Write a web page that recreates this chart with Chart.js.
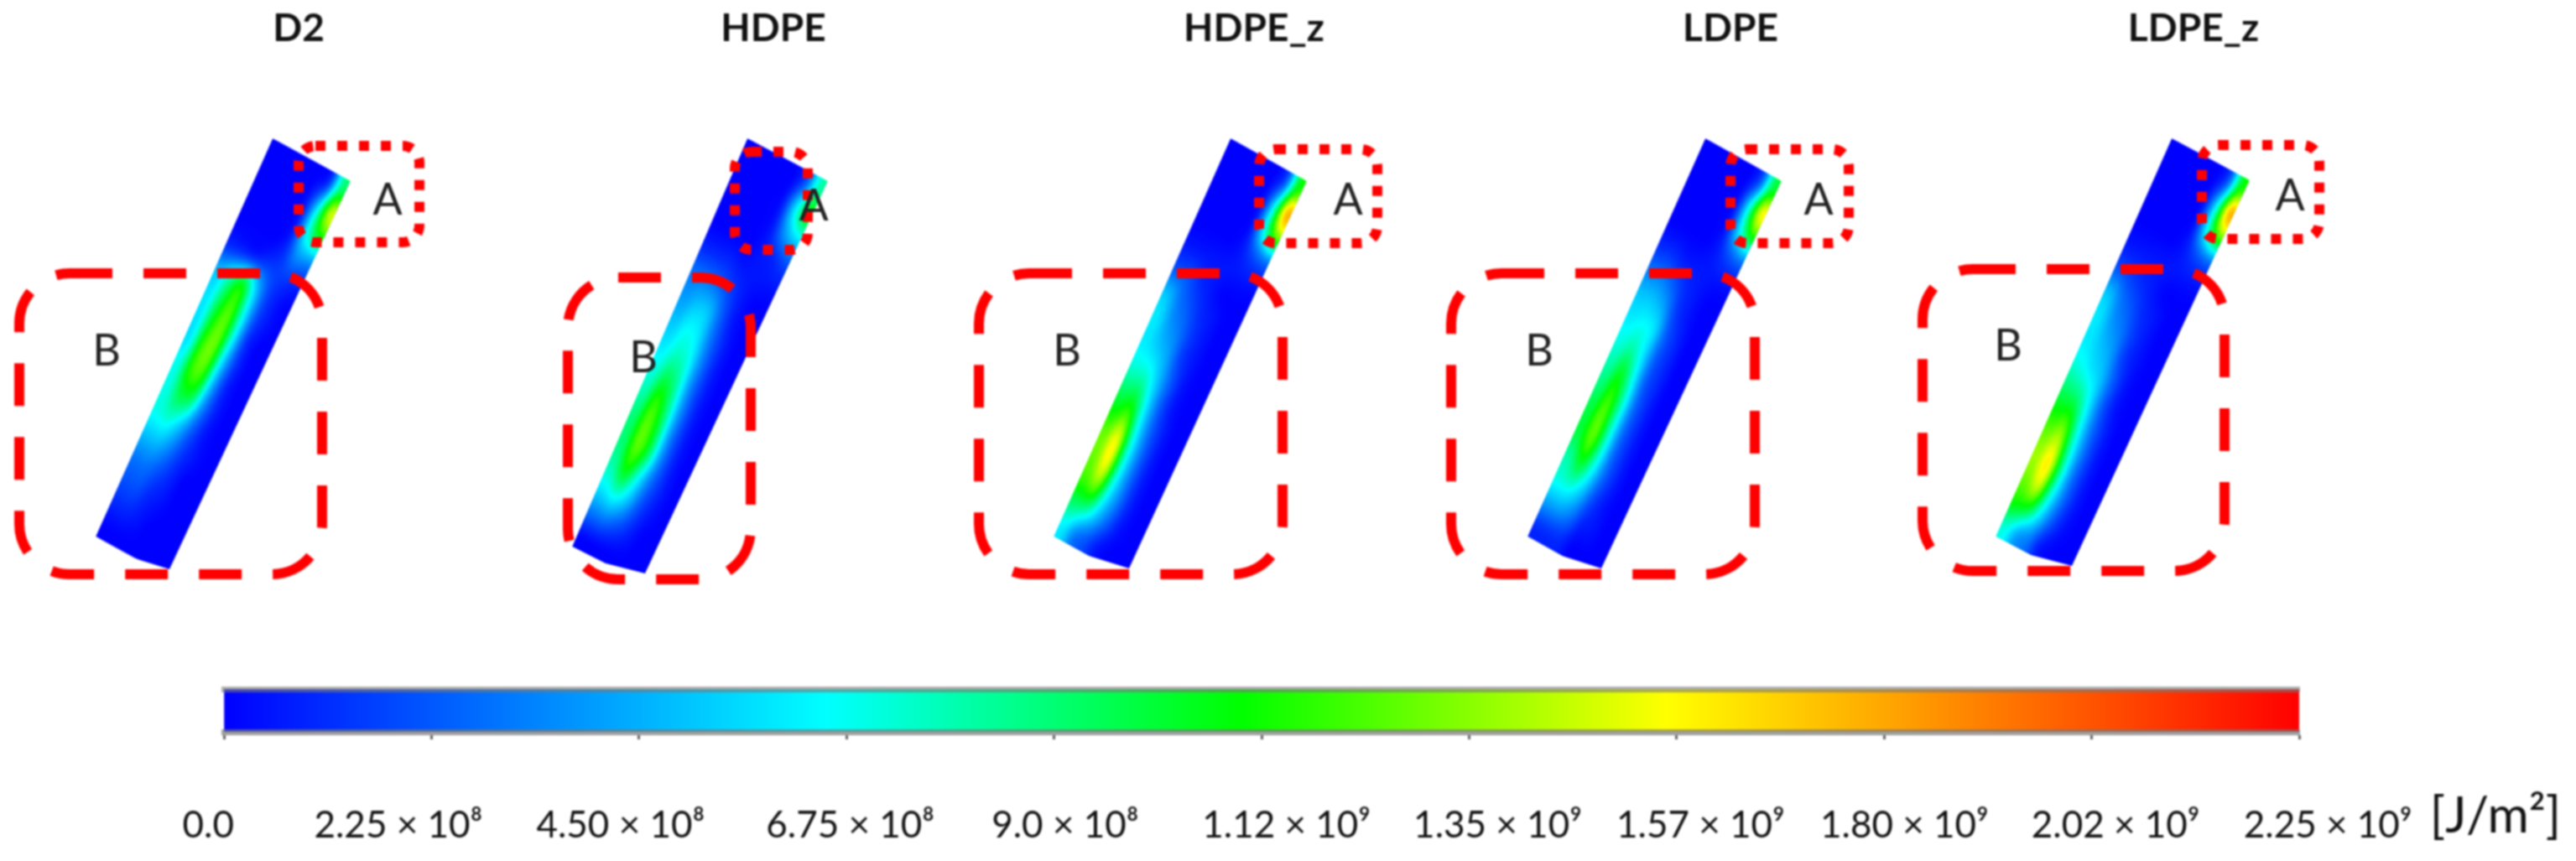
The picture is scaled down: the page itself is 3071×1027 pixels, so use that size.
<!DOCTYPE html>
<html>
<head>
<meta charset="utf-8">
<script src="https://cdn.jsdelivr.net/npm/chart.js@4/dist/chart.umd.min.js"></script>
<style>
  html, body { margin: 0; background: #fff; }
  canvas { position: absolute; left: 0; filter: blur(1px); }
  #panels { top: 0; }
  #scale { top: 790px; }
</style>
</head>
<body>
<canvas id="panels" width="3071" height="790"></canvas>
<canvas id="scale" width="3071" height="237"></canvas>
<script>
const panelNames = ['D2', 'HDPE', 'HDPE_z', 'LDPE', 'LDPE_z'];
const titleX = [356, 922, 1495, 2063, 2615];
const titleY = 34;

// cylinder outlines, picture units: top-left, along the curved end, tip, bottom right, bottom edge, bottom left
const outlineD2 = [[325,165],[366,181],[395,197],[418,216],[202,679],[154,664],[114,640],[325,165]];
const outlineHDPE = [[891,165],[934,179],[962,197],[987,216],[769,684],[722,672],[682,652],[891,165]];
const outlineHDPEz = [[1467,165],[1508,181],[1535,197],[1558,216],[1346,678],[1298,663],[1256,640],[1467,165]];
const outlineLDPE = [[2033,165],[2073,181],[2101,197],[2124,216],[1909,678],[1862,663],[1821,640],[2033,165]];
const outlineLDPEz = [[2589,165],[2632,181],[2659,197],[2682,215],[2470,675],[2421,662],[2379,640],[2589,165]];

// energy along each cylinder in 1e8 J/m2, rows run top to bottom, columns left edge to right edge
const fieldD2 = [
  [0,0,0,0,0,1,9],
  [0,0,0,0,0.5,6,15],
  [0,0,0,0,0.5,7,11],
  [0,0,0,0,1,4,4],
  [1,1,1,1.5,1.5,1.5,1],
  [5,8,11,6,2,0.5,0],
  [6,10,12.5,7,2,0.5,0],
  [6,11,13,7,1.5,0,0],
  [6,12,13,6,1.5,0,0],
  [7,12,12,5,1,0,0],
  [7,10,9.5,4,1,0,0],
  [7,7.5,5.5,2.5,0.5,0,0],
  [5,5,3.5,1.5,0.5,0,0],
  [3,3,2,1,0,0,0],
  [2,2,1,0.5,0,0,0],
  [1,1,0.5,0,0,0,0],
  [0,0,0,0,0,0,0]
];
const fieldHDPE = [
  [0,0,0,0,0,2,8],
  [0,0,0,0,0.5,6,11],
  [0,0,0,0,0.5,4,6],
  [0,0,0,0,0.5,1,2],
  [1,1,1,0.5,0.5,0.5,0.5],
  [3,3,2.5,1.5,0.5,0,0],
  [4,5,5,2.5,0.5,0,0],
  [5,6.5,6,3,1,0,0],
  [6,7.5,7,3.5,1,0,0],
  [7,9.5,8,3.5,1,0,0],
  [8,12,9,4,1,0,0],
  [9,13,10,4,1,0,0],
  [9,13,10,4,1,0,0],
  [8,11,7,3,1,0,0],
  [6,7,5,2,0.5,0,0],
  [3,3,2,1,0,0,0],
  [0,0,0,0,0,0,0]
];
const fieldHDPEz = [
  [0,0,0,0,0,2,11],
  [0,0,0,0,0.5,7,18],
  [0,0,0,0,0.5,7,13],
  [0,0,0,0,0.5,2,3],
  [0.5,0.5,0.5,0.5,0.5,0.5,0.5],
  [2,2,1,0.5,0,0,0],
  [5,3,2,1,0.5,0,0],
  [6,4,3,1.5,0.5,0,0],
  [6,5,4,1.5,0.5,0,0],
  [7,7,5,2.5,0.5,0,0],
  [9,9.5,6,2.5,0.5,0,0],
  [11,12.5,7,3,1,0,0],
  [13,16,8,3.5,1,0,0],
  [13,16,8,3.5,1,0,0],
  [12,13,7,3.5,1,0,0],
  [9,8,5,2.5,0.5,0,0],
  [6,3,2,0.5,0,0,0]
];
const fieldLDPE = [
  [0,0,0,0,0,2,10],
  [0,0,0,0,0.5,7,16],
  [0,0,0,0,0.5,6,11],
  [0,0,0,0,0.5,2,3],
  [1,1,0.5,0.5,0.5,0.5,0.5],
  [3,3,2,1,0.5,0,0],
  [5,5,4,1.5,0.5,0,0],
  [6,6.5,6,2.5,1,0,0],
  [7,8,6,2.5,1,0,0],
  [8,10.5,7,2.5,1,0,0],
  [9,12,8,3,1,0,0],
  [10,13,8,3,1,0,0],
  [10,13,8,3,1,0,0],
  [8,10.5,7,3,1,0,0],
  [7,7,5,2,0.5,0,0],
  [4,4,3,1,0.5,0,0],
  [1,1,1,0,0,0,0]
];
const fieldLDPEz = [
  [0,0,0,0,0,2,11],
  [0,0,0,0,0.5,7,18],
  [0,0,0,0,0.5,7,13],
  [0,0,0,0,0.5,2,3],
  [0.5,0.5,0.5,0.5,0.5,0.5,0.5],
  [2,1.5,1,0.5,0,0,0],
  [5,3,2,1,0.5,0,0],
  [6,4,3,1.5,0.5,0,0],
  [6,5,4,1.5,0.5,0,0],
  [7,6,5,2.5,0.5,0,0],
  [9,8.5,6,2.5,0.5,0,0],
  [11,11.5,7,3,1,0,0],
  [13,14.5,8,3.5,1,0,0],
  [14,16.5,9,3.5,1,0,0],
  [13,15,8,3.5,1,0,0],
  [11,10,6,2.5,0.5,0,0],
  [7,4,3,0.5,0,0,0]
];

// [left, top, right, bottom] of the marked regions
const boxesA = [[356,174,500,289],[876,181,963,298],[1501,178,1642,290],[2063,178,2204,290],[2625,173,2765,285]];
const boxesB = [[23,326,384,685],[677,331,895,691],[1167,326,1529,685],[1730,326,2092,685],[2292,321,2652,681]];
const labelsA = [[462,239],[970,246],[1607,239],[2168,239],[2730,234]];
const labelsB = [[127,419],[767,427],[1272,419],[1835,419],[2394,413]];

// colour bar
const scaleMax = 2.25e9;
const tickValues = [0,2.25e8,4.5e8,6.75e8,9e8,1.125e9,1.35e9,1.575e9,1.8e9,2.025e9,2.25e9];
const tickLabels = ['0.0','2.25 × 10⁸','4.50 × 10⁸','6.75 × 10⁸','9.0 × 10⁸','1.12 × 10⁹','1.35 × 10⁹','1.57 × 10⁹','1.80 × 10⁹','2.02 × 10⁹','2.25 × 10⁹'];
// the labels sit a little off their ticks in the original
const labelAnchors = [-1.7e7,1.89e8,4.30e8,6.79e8,9.12e8,1.152e9,1.381e9,1.601e9,1.822e9,2.051e9,2.281e9];
const colorStops = [0,0.29,0.49,0.695,1];
const colorRGB = [[0,0,255],[0,255,255],[0,255,0],[255,255,0],[255,0,0]];
const unitLabel = '[J/m²]';

const fontName = 'Lato, sans-serif';

function rainbow(f) {
  let i = 0;
  while (i < colorStops.length - 2 && f > colorStops[i + 1]) i++;
  const k = Math.min(1, (f - colorStops[i]) / (colorStops[i + 1] - colorStops[i]));
  return colorRGB[i].map((c, n) => c + (colorRGB[i + 1][n] - c) * k);
}

// Values go in as grey, get smoothed by the browser, then go through the colour map
function fieldPattern(field, outline) {
  const rows = field.length, cols = field[0].length;
  const small = document.createElement('canvas');
  small.width = cols; small.height = rows;
  const sctx = small.getContext('2d');
  const img = sctx.createImageData(cols, rows);
  field.forEach((row, r) => row.forEach((v, c) => {
    const g = Math.round(v * 1e8 / scaleMax * 255), p = (r * cols + c) * 4;
    img.data[p] = img.data[p + 1] = img.data[p + 2] = g;
    img.data[p + 3] = 255;
  }));
  sctx.putImageData(img, 0, 0);

  const W = 90, H = 320;
  const big = document.createElement('canvas');
  big.width = W; big.height = H;
  const bctx = big.getContext('2d', { willReadFrequently: true });
  bctx.imageSmoothingEnabled = true;
  bctx.imageSmoothingQuality = 'high';
  bctx.drawImage(small, 0, 0, W, H);
  const out = bctx.getImageData(0, 0, W, H);
  for (let p = 0; p < out.data.length; p += 4) {
    const rgb = rainbow(out.data[p] / 255);
    out.data[p] = rgb[0]; out.data[p + 1] = rgb[1]; out.data[p + 2] = rgb[2];
  }
  bctx.putImageData(out, 0, 0);

  const tl = outline[0], tr = outline[3], bl = outline[6];
  const pattern = document.getElementById('panels').getContext('2d').createPattern(big, 'no-repeat');
  pattern.setTransform(new DOMMatrix([
    (tr[0] - tl[0]) / W, (tr[1] - tl[1]) / W,
    (bl[0] - tl[0]) / H, (bl[1] - tl[1]) / H,
    tl[0], tl[1]
  ]));
  return pattern;
}

const outlines = [outlineD2, outlineHDPE, outlineHDPEz, outlineLDPE, outlineLDPEz];
const fields = [fieldD2, fieldHDPE, fieldHDPEz, fieldLDPE, fieldLDPEz];

const overlay = {
  id: 'overlay',
  afterDatasetsDraw(chart) {
    const { ctx, scales: { x, y } } = chart;
    const px = v => x.getPixelForValue(v), py = v => y.getPixelForValue(v);
    const box = (b, r, dash) => {
      ctx.setLineDash(dash);
      ctx.beginPath();
      ctx.roundRect(px(b[0]), py(b[1]), px(b[2]) - px(b[0]), py(b[3]) - py(b[1]), r);
      ctx.stroke();
    };
    ctx.save();
    ctx.strokeStyle = '#ff0000';
    ctx.lineWidth = 12;
    boxesA.forEach(b => box(b, 20, [12, 14]));
    boxesB.forEach(b => box(b, 60, [51, 37]));
    ctx.setLineDash([]);
    ctx.textAlign = 'center';
    ctx.textBaseline = 'middle';
    ctx.fillStyle = '#222';
    ctx.font = '52px ' + fontName;
    labelsA.forEach(p => ctx.fillText('A', px(p[0]), py(p[1])));
    labelsB.forEach(p => ctx.fillText('B', px(p[0]), py(p[1])));
    ctx.fillStyle = '#111';
    ctx.font = 'bold 46px ' + fontName;
    panelNames.forEach((name, i) => ctx.fillText(name, px(titleX[i]), py(titleY)));
    ctx.restore();
  }
};

new Chart(document.getElementById('panels'), {
  type: 'scatter',
  data: {
    datasets: panelNames.map((name, i) => ({
      label: name,
      data: outlines[i].map(p => ({ x: p[0], y: p[1] })),
      showLine: true,
      fill: 'shape',
      backgroundColor: fieldPattern(fields[i], outlines[i]),
      borderWidth: 0,
      pointRadius: 0
    }))
  },
  options: {
    responsive: false,
    devicePixelRatio: 1,
    animation: false,
    layout: { padding: 0 },
    plugins: { legend: { display: false }, tooltip: { enabled: false } },
    scales: {
      x: { display: false, min: 0, max: 3071 },
      y: { display: false, min: 0, max: 790, reverse: true }
    }
  },
  plugins: [overlay]
});

const unitText = {
  id: 'unitText',
  afterDraw(chart) {
    const { ctx } = chart;
    ctx.save();
    ctx.fillStyle = '#111';
    ctx.font = '60px ' + fontName;
    ctx.textAlign = 'center';
    ctx.textBaseline = 'middle';
    ctx.fillText(unitLabel, 2975, 184);
    ctx.restore();
  }
};

new Chart(document.getElementById('scale'), {
  type: 'bar',
  data: {
    labels: ['energy'],
    datasets: [{
      data: [[0, scaleMax]],
      barPercentage: 1,
      categoryPercentage: 1,
      backgroundColor(c) {
        const area = c.chart.chartArea;
        if (!area) return '#00f';
        const g = c.chart.ctx.createLinearGradient(area.left, 0, area.right, 0);
        colorStops.forEach((s, i) => g.addColorStop(s, 'rgb(' + colorRGB[i].join(',') + ')'));
        return g;
      }
    }]
  },
  options: {
    indexAxis: 'y',
    responsive: false,
    devicePixelRatio: 1,
    animation: false,
    layout: { padding: { left: 267, right: 330, top: 32, bottom: 0 } },
    plugins: { legend: { display: false }, tooltip: { enabled: false } },
    scales: {
      y: { display: false },
      x: {
        min: 0, max: scaleMax, weight: 0,
        afterBuildTicks(axis) { axis.ticks = tickValues.map(v => ({ value: v })); },
        afterFit(axis) { axis.height = 9; },
        ticks: { display: false },
        grid: { drawOnChartArea: false, tickLength: 9, tickColor: '#666', tickWidth: 3 },
        border: { color: 'rgba(120,120,120,0.7)', width: 7, z: 1 }
      },
      top: {
        type: 'linear', axis: 'x', position: 'top', min: 0, max: scaleMax,
        afterFit(axis) { axis.height = 0; },
        ticks: { display: false },
        grid: { display: false },
        border: { color: 'rgba(120,120,120,0.6)', width: 7, z: 1 }
      },
      values: {
        type: 'linear', axis: 'x', position: 'bottom', min: 0, max: scaleMax, weight: 1,
        afterBuildTicks(axis) { axis.ticks = labelAnchors.map(v => ({ value: v })); },
        afterFit(axis) { axis.height = 145; },
        grid: { display: false },
        border: { display: false },
        ticks: {
          autoSkip: false, maxRotation: 0, padding: 68,
          color: '#111',
          font: { family: fontName, size: 44 },
          callback: (v, i) => tickLabels[i]
        }
      }
    }
  },
  plugins: [unitText]
});
</script>
</body>
</html>
